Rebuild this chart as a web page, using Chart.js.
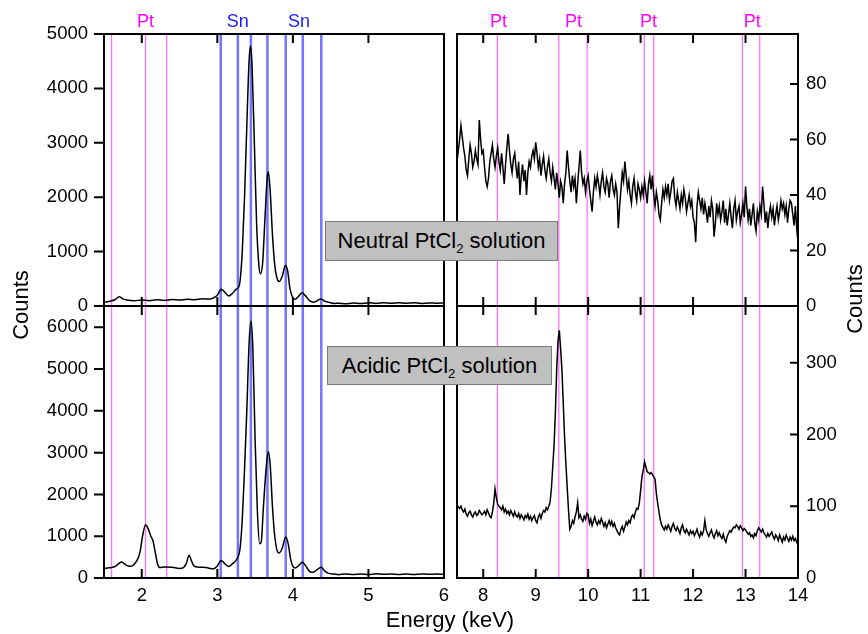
<!DOCTYPE html>
<html>
<head>
<meta charset="utf-8">
<script src="https://cdn.jsdelivr.net/npm/chart.js@4/dist/chart.umd.min.js"></script>
<style>
  body { margin: 0; background: #fff; }
  #wrap { position: relative; width: 868px; height: 634px; font-family: "Liberation Sans", Arial, sans-serif; color: #000; }
  #wrap canvas { position: absolute; left: 0; top: 0; }
  .box { position: absolute; background: #c0c0c0; border: 1px solid #7a7a7a; box-sizing: border-box;
         font-size: 22px; text-align: center; white-space: nowrap; z-index: 5; }
  .box sub { font-size: 13px; vertical-align: -5px; line-height: 0; }
  .title { position: absolute; font-size: 22px; white-space: nowrap; text-align: center; z-index: 5; }
  .rot { transform: rotate(-90deg); }
</style>
</head>
<body>
<div id="wrap">
  <canvas id="tl" width="868" height="634"></canvas>
  <canvas id="bl" width="868" height="634"></canvas>
  <canvas id="tr" width="868" height="634"></canvas>
  <canvas id="br" width="868" height="634"></canvas>
  <div class="box" style="left:325px;top:221px;width:233px;height:40px;line-height:38px;">Neutral PtCl<sub>2</sub> solution</div>
  <div class="box" style="left:327px;top:346px;width:225px;height:39px;line-height:37px;">Acidic PtCl<sub>2</sub> solution</div>
  <div class="title rot" style="left:-29px;top:292px;width:100px;height:26px;line-height:26px;">Counts</div>
  <div class="title rot" style="left:805px;top:286px;width:100px;height:26px;line-height:26px;">Counts</div>
  <div class="title" style="left:350px;top:607px;width:200px;height:26px;line-height:26px;">Energy (keV)</div>
</div>
<script>
// Low energy range (keV) - Sn L and Pt M region
const neutralLowE = [1.50,1.55,1.60,1.65,1.70,1.75,1.80,1.90,2.00,2.10,2.20,2.30,2.40,2.50,2.60,2.70,2.80,2.90,2.95,3.00,
  3.05,3.10,3.15,3.20,3.25,3.28,3.30,3.33,3.36,3.39,3.42,3.44,3.46,3.49,3.52,3.55,3.57,3.60,3.63,3.66,
  3.675,3.70,3.73,3.76,3.80,3.82,3.86,3.90,3.93,3.96,4.00,4.03,4.07,4.12,4.16,4.22,4.27,4.32,4.37,4.42,
  4.50,4.55,4.60,4.70,4.80,4.90,5.00,5.10,5.20,5.30,5.40,5.50,5.60,5.70,5.80,5.90,6.00];
const neutralLowCounts = [70,80,95,120,170,130,110,95,112,98,115,102,118,110,124,115,132,128,150,200,
  310,250,185,230,310,340,450,1000,2000,3300,4500,4780,4400,3000,1500,750,590,800,1600,2350,
  2470,2100,1300,750,470,450,550,745,650,330,150,125,170,245,200,100,70,95,130,90,
  60,45,52,40,55,45,58,48,60,50,62,52,58,48,56,50,55];

const acidicLowE = [1.50,1.55,1.60,1.65,1.70,1.73,1.77,1.82,1.85,1.90,1.95,1.98,2.01,2.05,2.08,2.12,2.15,2.18,2.21,2.24,
  2.30,2.40,2.50,2.55,2.59,2.625,2.66,2.69,2.75,2.85,2.95,3.00,3.05,3.10,3.15,3.20,3.26,3.30,3.33,3.36,
  3.39,3.42,3.445,3.47,3.50,3.53,3.56,3.58,3.61,3.645,3.675,3.70,3.73,3.76,3.80,3.82,3.86,3.905,3.94,3.97,
  4.00,4.03,4.08,4.125,4.17,4.22,4.27,4.32,4.375,4.42,4.47,4.55,4.60,4.70,4.80,4.90,5.00,5.10,5.20,5.30,
  5.40,5.50,5.60,5.70,5.80,5.90,6.00];
const acidicLowCounts = [230,240,250,280,350,385,340,285,280,330,470,650,1000,1275,1200,1000,880,600,330,250,
  265,255,230,250,350,545,400,290,260,250,220,290,420,340,275,340,460,700,1400,2600,
  4000,5600,6150,5500,3300,1600,820,850,1700,2600,3030,2700,1700,1000,620,600,720,980,800,450,
  280,240,300,375,290,160,135,200,255,170,110,95,80,95,82,98,85,100,88,96,
  84,95,86,98,88,94,90];

// High energy range, 0.025 keV channels from 7.5 keV - Pt L region (20 channels per row)
const highStart = 7.5, highStep = 0.025;
const neutralHighCounts = [
  52,56,60,65,61,57,54,49,47,53,58,55,50,52,56,53,51,67,60,55,
  56,50,45,43,46,52,55,58,53,50,54,57,52,49,55,50,44,51,57,62,
  56,51,48,53,55,50,46,52,40,47,51,45,49,40,48,52,50,54,56,53,
  59,55,50,53,47,51,54,49,46,50,53,48,45,50,46,42,48,44,39,45,
  43,37,44,48,56,50,45,41,47,43,46,37,44,50,56,48,44,46,41,45,
  47,42,38,34,41,46,43,47,44,40,45,48,43,41,46,44,39,45,47,42,
  40,44,41,28,36,42,48,45,52,47,42,45,40,37,43,46,41,38,44,42,
  39,43,40,45,41,37,44,47,42,47,40,36,41,38,33,31,37,42,39,43,
  40,44,38,41,45,46,39,36,41,38,35,40,37,42,39,34,37,40,36,38,
  32,30,23,36,41,38,35,39,33,37,34,30,36,32,38,35,25,30,37,33,
  36,31,34,38,30,35,29,33,37,32,28,35,38,31,34,36,30,33,37,32,
  43,36,31,35,29,33,37,30,27,34,31,36,33,43,37,30,34,28,33,36,
  32,35,29,33,36,31,34,38,35,37,33,36,30,35,38,37,33,29,36,28,
  23];
const acidicHighCounts = [
  102,99,97,100,95,92,96,89,86,91,93,88,85,90,92,87,89,94,91,88,
  90,93,88,95,91,86,84,92,104,124,112,103,100,98,95,100,92,96,90,93,
  88,94,90,86,92,87,85,90,83,88,85,81,87,84,89,82,86,80,84,87,
  80,77,85,89,83,90,94,92,98,95,100,106,125,155,185,230,290,330,345,320,
  290,245,197,160,127,95,68,72,80,76,85,92,105,84,88,82,79,86,82,90,
  88,76,82,73,79,85,78,74,80,76,83,78,72,77,70,75,80,74,79,72,
  76,70,66,62,60,68,72,65,71,78,74,80,77,85,88,84,92,97,96,104,
  122,141,150,162,155,148,147,145,147,144,141,138,118,104,92,81,74,70,67,72,
  68,74,70,65,72,76,69,66,71,67,62,70,74,66,63,68,64,60,66,62,
  65,59,63,68,61,57,64,60,66,80,67,62,58,63,67,60,56,62,66,59,
  63,58,55,61,54,50,58,62,66,64,68,71,70,74,72,68,73,70,66,69,
  67,64,61,63,58,60,56,62,59,66,70,67,64,68,63,60,57,62,58,61,
  64,58,54,60,57,52,60,55,50,57,53,60,55,51,57,53,58,52,55,50,
  46];

// Tick values
const lowXTicks = [2, 3, 4, 5, 6];
const highXTicks = [8, 9, 10, 11, 12, 13, 14];
const tlYTicks = [0, 1000, 2000, 3000, 4000, 5000];
const blYTicks = [0, 1000, 2000, 3000, 4000, 5000, 6000];
const trYTicks = [0, 20, 40, 60, 80];
const brYTicks = [0, 100, 200, 300];

// Emission line markers
const ptLowLines = [1.60, 2.05, 2.33];
const snLines = [3.045, 3.272, 3.444, 3.663, 3.905, 4.131, 4.376];
const ptHighLines = [8.27, 9.44, 9.98, 11.07, 11.25, 12.94, 13.27];
const lowTagE = [2.05, 3.27, 4.08];
const lowTagText = ['Pt', 'Sn', 'Sn'];
const lowTagColor = ['#ff00ff', '#1a1aff', '#1a1aff'];
const highTagE = [8.29, 9.72, 11.15, 13.13];
const highTagText = ['Pt', 'Pt', 'Pt', 'Pt'];

const PT_COLOR = 'rgba(255, 90, 255, 0.85)';
const SN_COLOR = 'rgba(70, 70, 255, 0.75)';

Chart.defaults.font.family = '"Liberation Sans", Arial, sans-serif';
Chart.defaults.font.size = 18.5;
Chart.defaults.color = '#000';

const panelDeco = {
  id: 'panelDeco',
  beforeDatasetsDraw(chart, args, opts) {
    const { ctx, chartArea: a } = chart;
    const x = chart.scales.x;
    ctx.save();
    opts.lines.forEach((set) => {
      ctx.strokeStyle = set.color;
      ctx.lineWidth = set.width;
      set.values.forEach((e) => {
        const px = x.getPixelForValue(e);
        ctx.beginPath();
        ctx.moveTo(px, a.top);
        ctx.lineTo(px, a.bottom);
        ctx.stroke();
      });
    });
    ctx.restore();
  },
  afterDatasetsDraw(chart, args, opts) {
    const { ctx, chartArea: a } = chart;
    const x = chart.scales.x, y = chart.scales.y;
    ctx.save();
    ctx.strokeStyle = '#000';
    ctx.lineWidth = 2;
    ctx.strokeRect(a.left, a.top, a.right - a.left, a.bottom - a.top);
    ctx.beginPath();
    opts.xTicks.forEach((v) => {
      const px = x.getPixelForValue(v);
      ctx.moveTo(px, a.top); ctx.lineTo(px, a.top + 9);
      ctx.moveTo(px, a.bottom); ctx.lineTo(px, a.bottom - 9);
    });
    opts.yTicks.forEach((v) => {
      const py = y.getPixelForValue(v);
      if (opts.side === 'left') { ctx.moveTo(a.left - 10, py); ctx.lineTo(a.left, py); }
      else { ctx.moveTo(a.right - 8, py); ctx.lineTo(a.right, py); }
    });
    ctx.stroke();

    // element labels above the top panels
    if (opts.tags) {
      ctx.font = '18px "Liberation Sans", Arial, sans-serif';
      ctx.textAlign = 'center';
      ctx.textBaseline = 'middle';
      opts.tags.e.forEach((e, i) => {
        ctx.fillStyle = opts.tags.color[i];
        ctx.fillText(opts.tags.text[i], x.getPixelForValue(e), a.top - 12);
      });
    }
    ctx.restore();
  }
};

function makePanel(id, p) {
  const pts = p.energies.map((e, i) => ({ x: e, y: p.counts[i] }));
  const yIsLeft = p.side === 'left';
  const yW = yIsLeft ? 100 : 60;
  new Chart(document.getElementById(id), {
    type: 'line',
    data: {
      datasets: [{
        data: pts,
        borderColor: '#000',
        borderWidth: 1.5,
        pointRadius: 0,
        cubicInterpolationMode: p.smooth ? 'monotone' : 'default',
        tension: 0,
        fill: false
      }]
    },
    options: {
      responsive: false,
      animation: false,
      events: [],
      layout: {
        padding: {
          left: yIsLeft ? p.area.left - yW : p.area.left,
          right: yIsLeft ? 868 - p.area.right : 868 - p.area.right - yW,
          top: p.area.top,
          bottom: p.showX ? 634 - p.area.bottom - 40 : 634 - p.area.bottom
        }
      },
      plugins: {
        legend: { display: false },
        tooltip: { enabled: false },
        panelDeco: { lines: p.lines, xTicks: p.xTicks, yTicks: p.yTicks, side: p.side, tags: p.tags }
      },
      scales: {
        x: {
          type: 'linear',
          min: p.xMin,
          max: p.xMax,
          afterBuildTicks: (s) => { s.ticks = p.xTicks.map((v) => ({ value: v })); },
          afterFit: (s) => { s.height = p.showX ? 40 : 0; },
          grid: { display: true, drawOnChartArea: false, drawTicks: false },
          border: { display: false },
          ticks: { display: p.showX, padding: 7, maxRotation: 0, autoSkip: false, callback: (v) => String(v) }
        },
        y: {
          position: p.side,
          min: p.yMin,
          max: p.yMax,
          afterBuildTicks: (s) => { s.ticks = p.yTicks.map((v) => ({ value: v })); },
          afterFit: (s) => { s.width = yW; },
          grid: { display: true, drawOnChartArea: false, drawTicks: false },
          border: { display: false },
          ticks: { padding: yIsLeft ? 16 : 8, autoSkip: false, callback: (v) => String(v) }
        }
      }
    },
    plugins: [panelDeco]
  });
}

const highE = neutralHighCounts.map((_, i) => +(highStart + i * highStep).toFixed(3));

makePanel('tl', {
  energies: neutralLowE, counts: neutralLowCounts, smooth: true,
  area: { left: 104, right: 444, top: 34, bottom: 306 },
  xMin: 1.5, xMax: 6, yMin: 0, yMax: 5000, xTicks: lowXTicks, yTicks: tlYTicks,
  side: 'left', showX: false,
  lines: [{ values: ptLowLines, color: PT_COLOR, width: 1.3 }, { values: snLines, color: SN_COLOR, width: 2.5 }],
  tags: { e: lowTagE, text: lowTagText, color: lowTagColor }
});
makePanel('bl', {
  energies: acidicLowE, counts: acidicLowCounts, smooth: true,
  area: { left: 104, right: 444, top: 306, bottom: 578 },
  xMin: 1.5, xMax: 6, yMin: 0, yMax: 6510, xTicks: lowXTicks, yTicks: blYTicks,
  side: 'left', showX: true,
  lines: [{ values: ptLowLines, color: PT_COLOR, width: 1.3 }, { values: snLines, color: SN_COLOR, width: 2.5 }]
});
makePanel('tr', {
  energies: highE, counts: neutralHighCounts, smooth: false,
  area: { left: 457, right: 798, top: 34, bottom: 306 },
  xMin: 7.5, xMax: 14, yMin: 0, yMax: 98, xTicks: highXTicks, yTicks: trYTicks,
  side: 'right', showX: false,
  lines: [{ values: ptHighLines, color: PT_COLOR, width: 1.3 }],
  tags: { e: highTagE, text: highTagText, color: highTagText.map(() => '#ff00ff') }
});
makePanel('br', {
  energies: highE, counts: acidicHighCounts, smooth: false,
  area: { left: 457, right: 798, top: 306, bottom: 578 },
  xMin: 7.5, xMax: 14, yMin: 0, yMax: 379, xTicks: highXTicks, yTicks: brYTicks,
  side: 'right', showX: true,
  lines: [{ values: ptHighLines, color: PT_COLOR, width: 1.3 }]
});
</script>
</body>
</html>
